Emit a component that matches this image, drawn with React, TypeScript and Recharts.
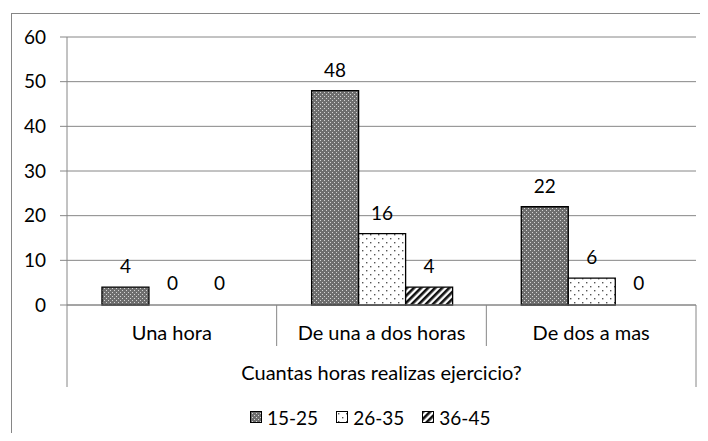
import { BarChart, Bar, XAxis, YAxis, CartesianGrid, Legend, LabelList, Rectangle } from "recharts";

const categories = ["Una hora", "De una a dos horas", "De dos a mas"];
const seriesNames = ["15-25", "26-35", "36-45"];
const values1525 = [4, 48, 22];
const values2635 = [0, 16, 6];
const values3645 = [0, 4, 0];
const yTicks = [0, 10, 20, 30, 40, 50, 60];
const axisTitle = "Cuantas horas realizas ejercicio?";

const data = categories.map((name, i) => ({
  name,
  s1: values1525[i],
  s2: values2635[i],
  s3: values3645[i],
}));

const W = 708;
const H = 441;
const M = { top: 37, right: 12, left: 11, bottom: 0 };
const Y_W = 56;
const PLOT_W = W - M.left - M.right - Y_W;
const BAND = PLOT_W / categories.length;
const FONT = "Lato, 'Open Sans', sans-serif";
const GRAY = "#868686";

const fills = ["url(#p1525)", "url(#p2635)", "url(#p3645)"];
const keys = ["s1", "s2", "s3"];

function Patterns({ prefix }: { prefix: string }) {
  return (
    <defs>
      <pattern id={prefix + "1525"} width="4" height="4" patternUnits="userSpaceOnUse">
        <rect width="4" height="4" fill="#6e6e6e" />
        <rect x="0" y="0" width="1" height="1" fill="#d4d4d4" />
        <rect x="2" y="2" width="1" height="1" fill="#d4d4d4" />
      </pattern>
      <pattern id={prefix + "2635"} width="8" height="8" patternUnits="userSpaceOnUse">
        <rect width="8" height="8" fill="#fff" />
        <rect x="2" y="2" width="1.4" height="1.4" fill="#555" />
        <rect x="6" y="6" width="1.4" height="1.4" fill="#555" />
      </pattern>
      <pattern
        id={prefix + "3645"}
        width="5"
        height="5"
        patternUnits="userSpaceOnUse"
        patternTransform="rotate(45)"
      >
        <rect width="5" height="5" fill="#fff" />
        <rect width="2.6" height="5" fill="#111" />
      </pattern>
    </defs>
  );
}

// zero bars keep a 1px box so their label still shows, but draw nothing
function makeShape(key: string) {
  return (props: any) => {
    if (!props.payload || props.payload[key] === 0) return <g />;
    return <Rectangle {...props} />;
  };
}

function CategoryTick(props: any) {
  const { x, y, payload, index } = props;
  const left = x - BAND / 2;
  const right = x + BAND / 2;
  const last = index === categories.length - 1;
  return (
    <g>
      <line x1={left} y1={y} x2={left} y2={y + (index === 0 ? 82 : 41)} stroke={GRAY} />
      {last && <line x1={right} y1={y} x2={right} y2={y + 82} stroke={GRAY} />}
      <text x={x} y={y + 35} textAnchor="middle" fill="#000" fontSize={20} fontFamily={FONT}>
        {payload.value}
      </text>
      {index === 1 && (
        <text x={x} y={y + 75} textAnchor="middle" fill="#000" fontSize={20} fontFamily={FONT}>
          {axisTitle}
        </text>
      )}
    </g>
  );
}

function LegendContent() {
  return (
    <div
      style={{
        height: 36,
        display: "flex",
        alignItems: "center",
        paddingLeft: 239,
        paddingBottom: 12,
        boxSizing: "border-box",
        fontFamily: FONT,
        fontSize: 19,
        color: "#000",
      }}
    >
      <svg width="0" height="0" style={{ position: "absolute" }}>
        <Patterns prefix="lg" />
      </svg>
      {seriesNames.map((n, i) => (
        <div key={n} style={{ display: "flex", alignItems: "center", marginRight: 18 }}>
          <svg width="12" height="12" style={{ marginRight: 5 }}>
            <rect x="0.5" y="0.5" width="11" height="11" fill={fills[i].replace("#p", "#lg")} stroke="#000" />
          </svg>
          <span>{n}</span>
        </div>
      ))}
    </div>
  );
}

export default function App() {
  return (
    <div style={{ position: "relative", width: W, height: H, margin: -8, overflow: "hidden", background: "#fff" }}>
      <div
        style={{
          position: "absolute",
          left: 11,
          top: 13,
          width: 720,
          height: 460,
          border: `1px solid ${GRAY}`,
        }}
      />
      <div style={{ position: "absolute", left: 0, top: 0 }}>
        <BarChart width={W} height={H} data={data} margin={M} barCategoryGap="16.67%" barGap={0}>
          <Patterns prefix="p" />
          <CartesianGrid vertical={false} stroke={GRAY} />
          <XAxis
            dataKey="name"
            height={100}
            axisLine={{ stroke: GRAY }}
            tickLine={false}
            tickSize={0}
            tickMargin={0}
            tick={<CategoryTick />}
            interval={0}
          />
          <YAxis
            width={Y_W}
            domain={[0, 60]}
            ticks={yTicks}
            axisLine={{ stroke: GRAY }}
            tickLine={{ stroke: GRAY }}
            tickSize={7}
            tickMargin={14}
            tick={{ fill: "#000", fontSize: 19, fontFamily: FONT }}
          />
          <Legend verticalAlign="bottom" height={36} content={<LegendContent />} />
          {keys.map((k, i) => (
            <Bar
              key={k}
              dataKey={k}
              name={seriesNames[i]}
              fill={fills[i]}
              stroke="#000"
              strokeWidth={1.3}
              minPointSize={1}
              shape={makeShape(k)}
              isAnimationActive={false}
            >
              <LabelList dataKey={k} position="top" offset={14} fill="#000" fontSize={19} fontFamily={FONT} />
            </Bar>
          ))}
        </BarChart>
      </div>
    </div>
  );
}
